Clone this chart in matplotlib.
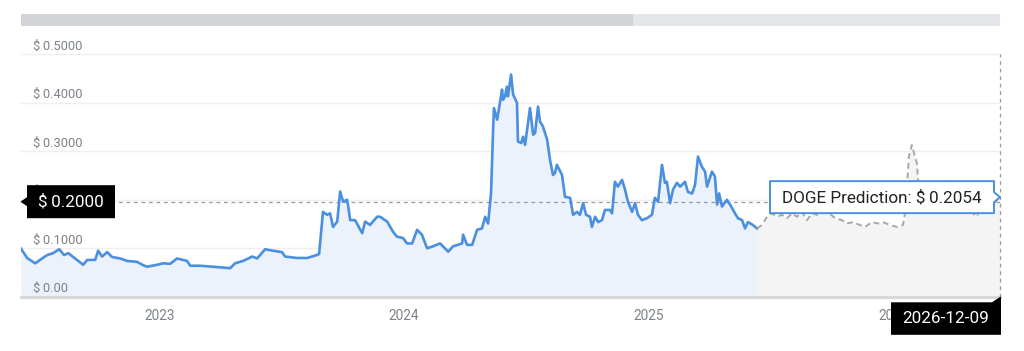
import matplotlib
matplotlib.use("Agg")
import matplotlib.pyplot as plt
from matplotlib.patches import Polygon, Rectangle
from matplotlib.transforms import IdentityTransform

plt.rcParams['font.family'] = ['Roboto', 'DejaVu Sans']

# ==========================================
# data (decimal years, price in USD)
# ==========================================
hist_t = [2022.435, 2022.461, 2022.494, 2022.522, 2022.543, 2022.567, 2022.592, 2022.612,
          2022.629, 2022.657, 2022.690, 2022.706, 2022.739, 2022.751, 2022.767, 2022.788,
          2022.808, 2022.841, 2022.869, 2022.910, 2022.935, 2022.951, 2022.992, 2023.016,
          2023.045, 2023.073, 2023.114, 2023.127, 2023.167, 2023.220, 2023.290, 2023.310,
          2023.343, 2023.380, 2023.400, 2023.433, 2023.465, 2023.502, 2023.514, 2023.563,
          2023.604, 2023.637, 2023.653, 2023.669, 2023.686, 2023.698, 2023.710, 2023.727,
          2023.739, 2023.751, 2023.767, 2023.771, 2023.780, 2023.800, 2023.829, 2023.841,
          2023.861, 2023.890, 2023.902, 2023.931, 2023.955, 2023.971, 2023.996, 2024.012,
          2024.033, 2024.053, 2024.073, 2024.094, 2024.118, 2024.147, 2024.180, 2024.200,
          2024.237, 2024.241, 2024.257, 2024.278, 2024.298, 2024.318, 2024.331, 2024.343,
          2024.355, 2024.363, 2024.367, 2024.380, 2024.392, 2024.400, 2024.404, 2024.412,
          2024.420, 2024.424, 2024.437, 2024.445, 2024.461, 2024.465, 2024.478, 2024.486,
          2024.494, 2024.514, 2024.527, 2024.535, 2024.547, 2024.555, 2024.567, 2024.584,
          2024.596, 2024.608, 2024.616, 2024.624, 2024.645, 2024.657, 2024.678, 2024.690,
          2024.706, 2024.718, 2024.731, 2024.743, 2024.759, 2024.767, 2024.780, 2024.792,
          2024.808, 2024.820, 2024.841, 2024.849, 2024.861, 2024.873, 2024.890, 2024.902,
          2024.914, 2024.931, 2024.943, 2024.955, 2024.971, 2024.992, 2025.012, 2025.024,
          2025.037, 2025.053, 2025.065, 2025.073, 2025.086, 2025.098, 2025.114, 2025.127,
          2025.147, 2025.159, 2025.176, 2025.188, 2025.200, 2025.216, 2025.229, 2025.237,
          2025.257, 2025.269, 2025.278, 2025.286, 2025.298, 2025.318, 2025.331, 2025.351,
          2025.363, 2025.380, 2025.392, 2025.404, 2025.424, 2025.441]
hist_v = [0.100, 0.080, 0.069, 0.079, 0.086, 0.090, 0.098, 0.086,
          0.090, 0.079, 0.066, 0.076, 0.076, 0.095, 0.083, 0.092,
          0.082, 0.079, 0.074, 0.072, 0.065, 0.062, 0.066, 0.069,
          0.068, 0.079, 0.074, 0.064, 0.064, 0.062, 0.059, 0.069,
          0.074, 0.083, 0.079, 0.098, 0.095, 0.092, 0.083, 0.080,
          0.080, 0.085, 0.088, 0.175, 0.169, 0.172, 0.144, 0.155,
          0.217, 0.196, 0.200, 0.190, 0.158, 0.158, 0.131, 0.155,
          0.148, 0.165, 0.165, 0.155, 0.134, 0.124, 0.121, 0.110,
          0.110, 0.138, 0.128, 0.100, 0.104, 0.110, 0.093, 0.104,
          0.110, 0.128, 0.107, 0.107, 0.138, 0.141, 0.165, 0.151,
          0.213, 0.337, 0.389, 0.365, 0.403, 0.427, 0.406, 0.413,
          0.433, 0.413, 0.458, 0.417, 0.400, 0.320, 0.317, 0.330,
          0.313, 0.389, 0.334, 0.338, 0.392, 0.361, 0.351, 0.324,
          0.282, 0.251, 0.255, 0.272, 0.251, 0.206, 0.204, 0.169,
          0.175, 0.169, 0.193, 0.169, 0.165, 0.144, 0.165, 0.154,
          0.158, 0.179, 0.179, 0.172, 0.237, 0.227, 0.241, 0.221,
          0.196, 0.175, 0.193, 0.169, 0.158, 0.162, 0.169, 0.204,
          0.196, 0.272, 0.235, 0.237, 0.193, 0.221, 0.235, 0.227,
          0.237, 0.216, 0.213, 0.231, 0.289, 0.268, 0.258, 0.227,
          0.258, 0.248, 0.190, 0.213, 0.186, 0.200, 0.190, 0.172,
          0.162, 0.158, 0.141, 0.154, 0.148, 0.141]

pred_t = [2025.441, 2025.461, 2025.482, 2025.502, 2025.522, 2025.543, 2025.563, 2025.584,
          2025.604, 2025.624, 2025.645, 2025.665, 2025.686, 2025.706, 2025.731, 2025.759,
          2025.788, 2025.808, 2025.833, 2025.861, 2025.882, 2025.910, 2025.935, 2025.955,
          2025.984, 2026.012, 2026.037, 2026.045, 2026.053, 2026.061, 2026.073, 2026.082,
          2026.094, 2026.098, 2026.114, 2026.139, 2026.167, 2026.192, 2026.216, 2026.241,
          2026.269, 2026.298, 2026.322, 2026.339, 2026.351, 2026.371, 2026.392, 2026.412,
          2026.433]
pred_v = [0.141, 0.148, 0.165, 0.172, 0.165, 0.169, 0.162, 0.172,
          0.165, 0.175, 0.158, 0.172, 0.169, 0.172, 0.175, 0.162,
          0.158, 0.151, 0.154, 0.148, 0.144, 0.154, 0.151, 0.154,
          0.148, 0.144, 0.148, 0.172, 0.227, 0.289, 0.313, 0.296,
          0.275, 0.241, 0.205, 0.195, 0.210, 0.220, 0.241, 0.215,
          0.190, 0.180, 0.172, 0.165, 0.185, 0.190, 0.180, 0.195,
          0.2054]

y_ticks = [0.0, 0.1, 0.2, 0.3, 0.4, 0.5]
y_tick_labels = ["\\$\u20090.00", "\\$\u20090.1000", "\\$\u20090.2000",
                 "\\$\u20090.3000", "\\$\u20090.4000", "\\$\u20090.5000"]
x_ticks = [2023, 2024, 2025, 2026]
x_tick_labels = ["2023", "2024", "2025", "2026"]

x_start, x_end = 2022.434, 2026.433
cross_value = 0.196
cross_label = "\\$\u20090.2000"
pred_label = "DOGE Prediction: \\$\u20090.2054"
date_label = "2026-12-09"

# ==========================================
# figure
# ==========================================
W, H = 1024, 351
fig = plt.figure(figsize=(W / 100, H / 100), dpi=100)
ax = fig.add_axes([20.5 / W, 54.2 / H, 979.5 / W, 242.6 / H])
ax.set_xlim(x_start, x_end)
ax.set_ylim(0, 0.5)
ax.axis('off')

grey_txt = '#7d8288'

# grid + baseline
for v in y_ticks[1:]:
    ax.axhline(v, color='#efeff1', lw=1, zorder=0)
ax.axhline(0, color='#d7d8dc', lw=2.2, zorder=3, clip_on=False)

# areas and lines
ax.fill_between(hist_t, hist_v, 0, color='#ebf2fc', lw=0, zorder=1)
ax.fill_between(pred_t, pred_v, 0, color='#f4f4f4', lw=0, zorder=1)
ax.plot(hist_t, hist_v, color='#4a8fe0', lw=1.9, zorder=4, solid_joinstyle='round')
ax.plot(pred_t, pred_v, color='#a8a8a8', lw=1.4, ls=(0, (3, 2)), zorder=4)

# crosshair
ax.axhline(cross_value, color='#9a9a9a', lw=0.9, ls=(0, (3, 3)), zorder=2)
ax.axvline(x_end, color='#9a9a9a', lw=0.9, ls=(0, (3, 3)), zorder=2, clip_on=False)

# tick labels
for v, lab in zip(y_ticks, y_tick_labels):
    ax.annotate(lab, xy=(0, v), xycoords=('axes fraction', 'data'), xytext=(12.5, 4.5),
                textcoords='offset pixels', ha='left', va='baseline',
                fontsize=9.3, color=grey_txt, annotation_clip=False)
for t, lab in zip(x_ticks, x_tick_labels):
    ax.annotate(lab, xy=(t, 0), xytext=(0, -23.5), textcoords='offset pixels',
                ha='center', va='baseline', fontsize=9.8, color=grey_txt,
                annotation_clip=False)

# scrollbar on top
ax.add_patch(Rectangle((0, 1.1175), 1, 0.048, transform=ax.transAxes,
                       color='#e5e6ea', clip_on=False, lw=0))
ax.add_patch(Rectangle((0, 1.1175), 0.625, 0.048, transform=ax.transAxes,
                       color='#d3d4d8', clip_on=False, lw=0))

# ==========================================
# overlay boxes (display pixels)
# ==========================================
idt = IdentityTransform()

# y crosshair label
ax0, ay = ax.transData.transform((x_start, cross_value))
box = [(ax0 + 6.5, ay - 16.5), (ax0 + 94.5, ay - 16.5), (ax0 + 94.5, ay + 16.5),
       (ax0 + 6.5, ay + 16.5), (ax0 + 6.5, ay + 4.5), (ax0, ay), (ax0 + 6.5, ay - 4.5)]
fig.add_artist(Polygon(box, closed=True, fc='black', ec='none', transform=idt, zorder=5))
fig.text(ax0 + 50.5, ay - 0.5, cross_label, transform=idt, ha='center', va='center',
         color='white', fontsize=12.3, zorder=6)

# prediction tooltip
px, py = ax.transData.transform((pred_t[-1], pred_v[-1]))
L, R, B, T = px - 230, px - 6, py - 16, py + 16
tip = [(L, B), (R, B), (R, py - 5), (px, py), (R, py + 5), (R, T), (L, T)]
fig.add_artist(Polygon(tip, closed=True, fc='white', ec='#4a8fe0', lw=1.4,
                       joinstyle='round', transform=idt, zorder=5))
fig.text((L + R) / 2, py - 0.5, pred_label, transform=idt, ha='center', va='center',
         color='#222222', fontsize=12.3, zorder=6)

# x crosshair date label
dx, dy = ax.transData.transform((x_end, 0))
L, R, B, T = dx - 109, dx + 1, dy - 38, dy - 5.5
dbox = [(L, B), (R, B), (R, T + 6), (R - 9, T), (L, T)]
fig.add_artist(Polygon(dbox, closed=True, fc='black', ec='none', transform=idt, zorder=5))
fig.text((L + R) / 2, (B + T) / 2, date_label, transform=idt, ha='center', va='center',
         color='white', fontsize=12.3, zorder=6)

fig.savefig('out.png', dpi=100, facecolor='white')
